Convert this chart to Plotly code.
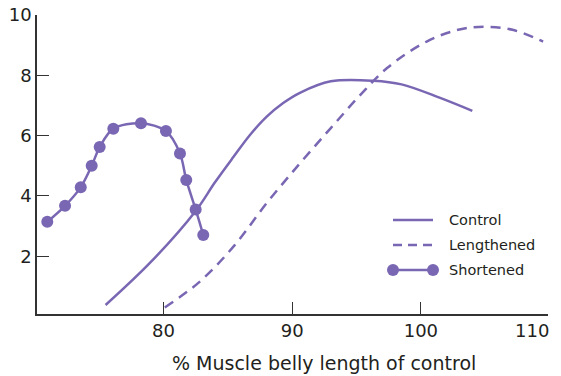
import plotly.graph_objects as go

# ---- data ----
control_x = [75.5, 79.0, 82.5, 84.0, 85.4, 86.72, 88.0, 89.3, 90.6, 93.0, 96.3, 98.5, 101.5, 104.0]
control_y = [0.38, 1.80, 3.50, 4.45, 5.27, 6.02, 6.62, 7.08, 7.42, 7.80, 7.82, 7.70, 7.25, 6.82]

length_x = [80.1, 82.8, 85.5, 88.0, 90.6, 93.0, 95.3, 97.4, 100.45, 103.0, 105.0, 107.2, 109.5]
length_y = [0.30, 1.15, 2.35, 3.75, 5.08, 6.25, 7.35, 8.25, 9.12, 9.52, 9.61, 9.50, 9.12]

short_x = [70.97, 72.35, 73.57, 74.42, 75.04, 76.1, 78.25, 80.19, 81.28, 81.77, 82.5, 83.09]
short_y = [3.14, 3.67, 4.29, 5.0, 5.62, 6.23, 6.41, 6.15, 5.41, 4.53, 3.55, 2.70]

x_ticks = [80, 90, 100]
y_ticks = [2, 4, 6, 8, 10]
legend_names = ["Control", "Lengthened", "Shortened"]
x_title = "% Muscle belly length of control"

PURPLE = "#7a67b3"
TXT = "#231f20"
FONT = "DejaVu Sans, Liberation Sans, Arial, sans-serif"

fig = go.Figure()
fig.add_trace(go.Scatter(x=control_x, y=control_y, mode="lines", line=dict(color=PURPLE, width=2.5, shape="spline", smoothing=1.0), name=legend_names[0], showlegend=False))
fig.add_trace(go.Scatter(x=length_x, y=length_y, mode="lines", line=dict(color=PURPLE, width=2.5, shape="spline", smoothing=1.0, dash="10px,7px"), name=legend_names[1], showlegend=False))
fig.add_trace(go.Scatter(x=short_x, y=short_y, mode="lines+markers", line=dict(color=PURPLE, width=2.5, shape="spline", smoothing=0.9), marker=dict(size=12, color=PURPLE), name=legend_names[2], showlegend=False))

# plot area in pixels: x 37..548, y 15..314
L, R, T, B = 37, 548, 15, 314
W, H = 561, 376
def px(xp):
    return (xp - L) / (R - L)
def py(yp):
    return (B - yp) / (B - T)

shapes = []
annotations = []
leg_rows = [220, 245, 270]
for i, (name, yy) in enumerate(zip(legend_names, leg_rows)):
    s = dict(type="line", xref="paper", yref="paper", x0=px(393), x1=px(433), y0=py(yy), y1=py(yy),
             line=dict(color=PURPLE, width=2.5))
    if i == 1:
        s["line"]["dash"] = "9px,6px"
    shapes.append(s)
    if i == 2:
        for cx in (393, 433):
            shapes.append(dict(type="circle", xref="paper", yref="paper", xsizemode="pixel", ysizemode="pixel",
                               xanchor=px(cx), yanchor=py(yy), x0=-6, x1=6, y0=-6, y1=6,
                               fillcolor=PURPLE, line=dict(color=PURPLE, width=0)))
    annotations.append(dict(text=name, xref="paper", yref="paper", x=px(447), y=py(yy), xanchor="left", yanchor="middle",
                            showarrow=False, font=dict(size=14.5, color=TXT, family=FONT)))

annotations.append(dict(text="110", xref="paper", yref="paper", x=px(532), y=0, xanchor="center", yanchor="top",
                        yshift=-4, showarrow=False, font=dict(size=18, color=TXT, family=FONT)))
annotations.append(dict(text=x_title, xref="paper", yref="paper", x=px(323.5), y=py(363), xanchor="center", yanchor="middle",
                        showarrow=False, font=dict(size=19, color=TXT, family=FONT)))

fig.update_layout(
    width=W, height=H,
    margin=dict(l=L, r=W - R, t=T, b=H - B),
    paper_bgcolor="white", plot_bgcolor="white",
    font=dict(family=FONT, size=18, color=TXT),
    shapes=shapes, annotations=annotations,
    xaxis=dict(range=[70.17, 109.88], tickvals=x_ticks, ticks="inside", ticklen=12, tickwidth=1.3, tickcolor="#333",
               showline=True, linecolor="#333", linewidth=1.5, showgrid=False, zeroline=False, automargin=False,
               tickfont=dict(size=18)),
    yaxis=dict(range=[0.083, 10], tickvals=y_ticks, ticks="inside", ticklen=12, tickwidth=1.3, tickcolor="#333",
               showline=True, linecolor="#333", linewidth=1.5, showgrid=False, zeroline=False, automargin=False,
               tickfont=dict(size=18)),
    showlegend=False,
)

fig.write_html("out.html")
